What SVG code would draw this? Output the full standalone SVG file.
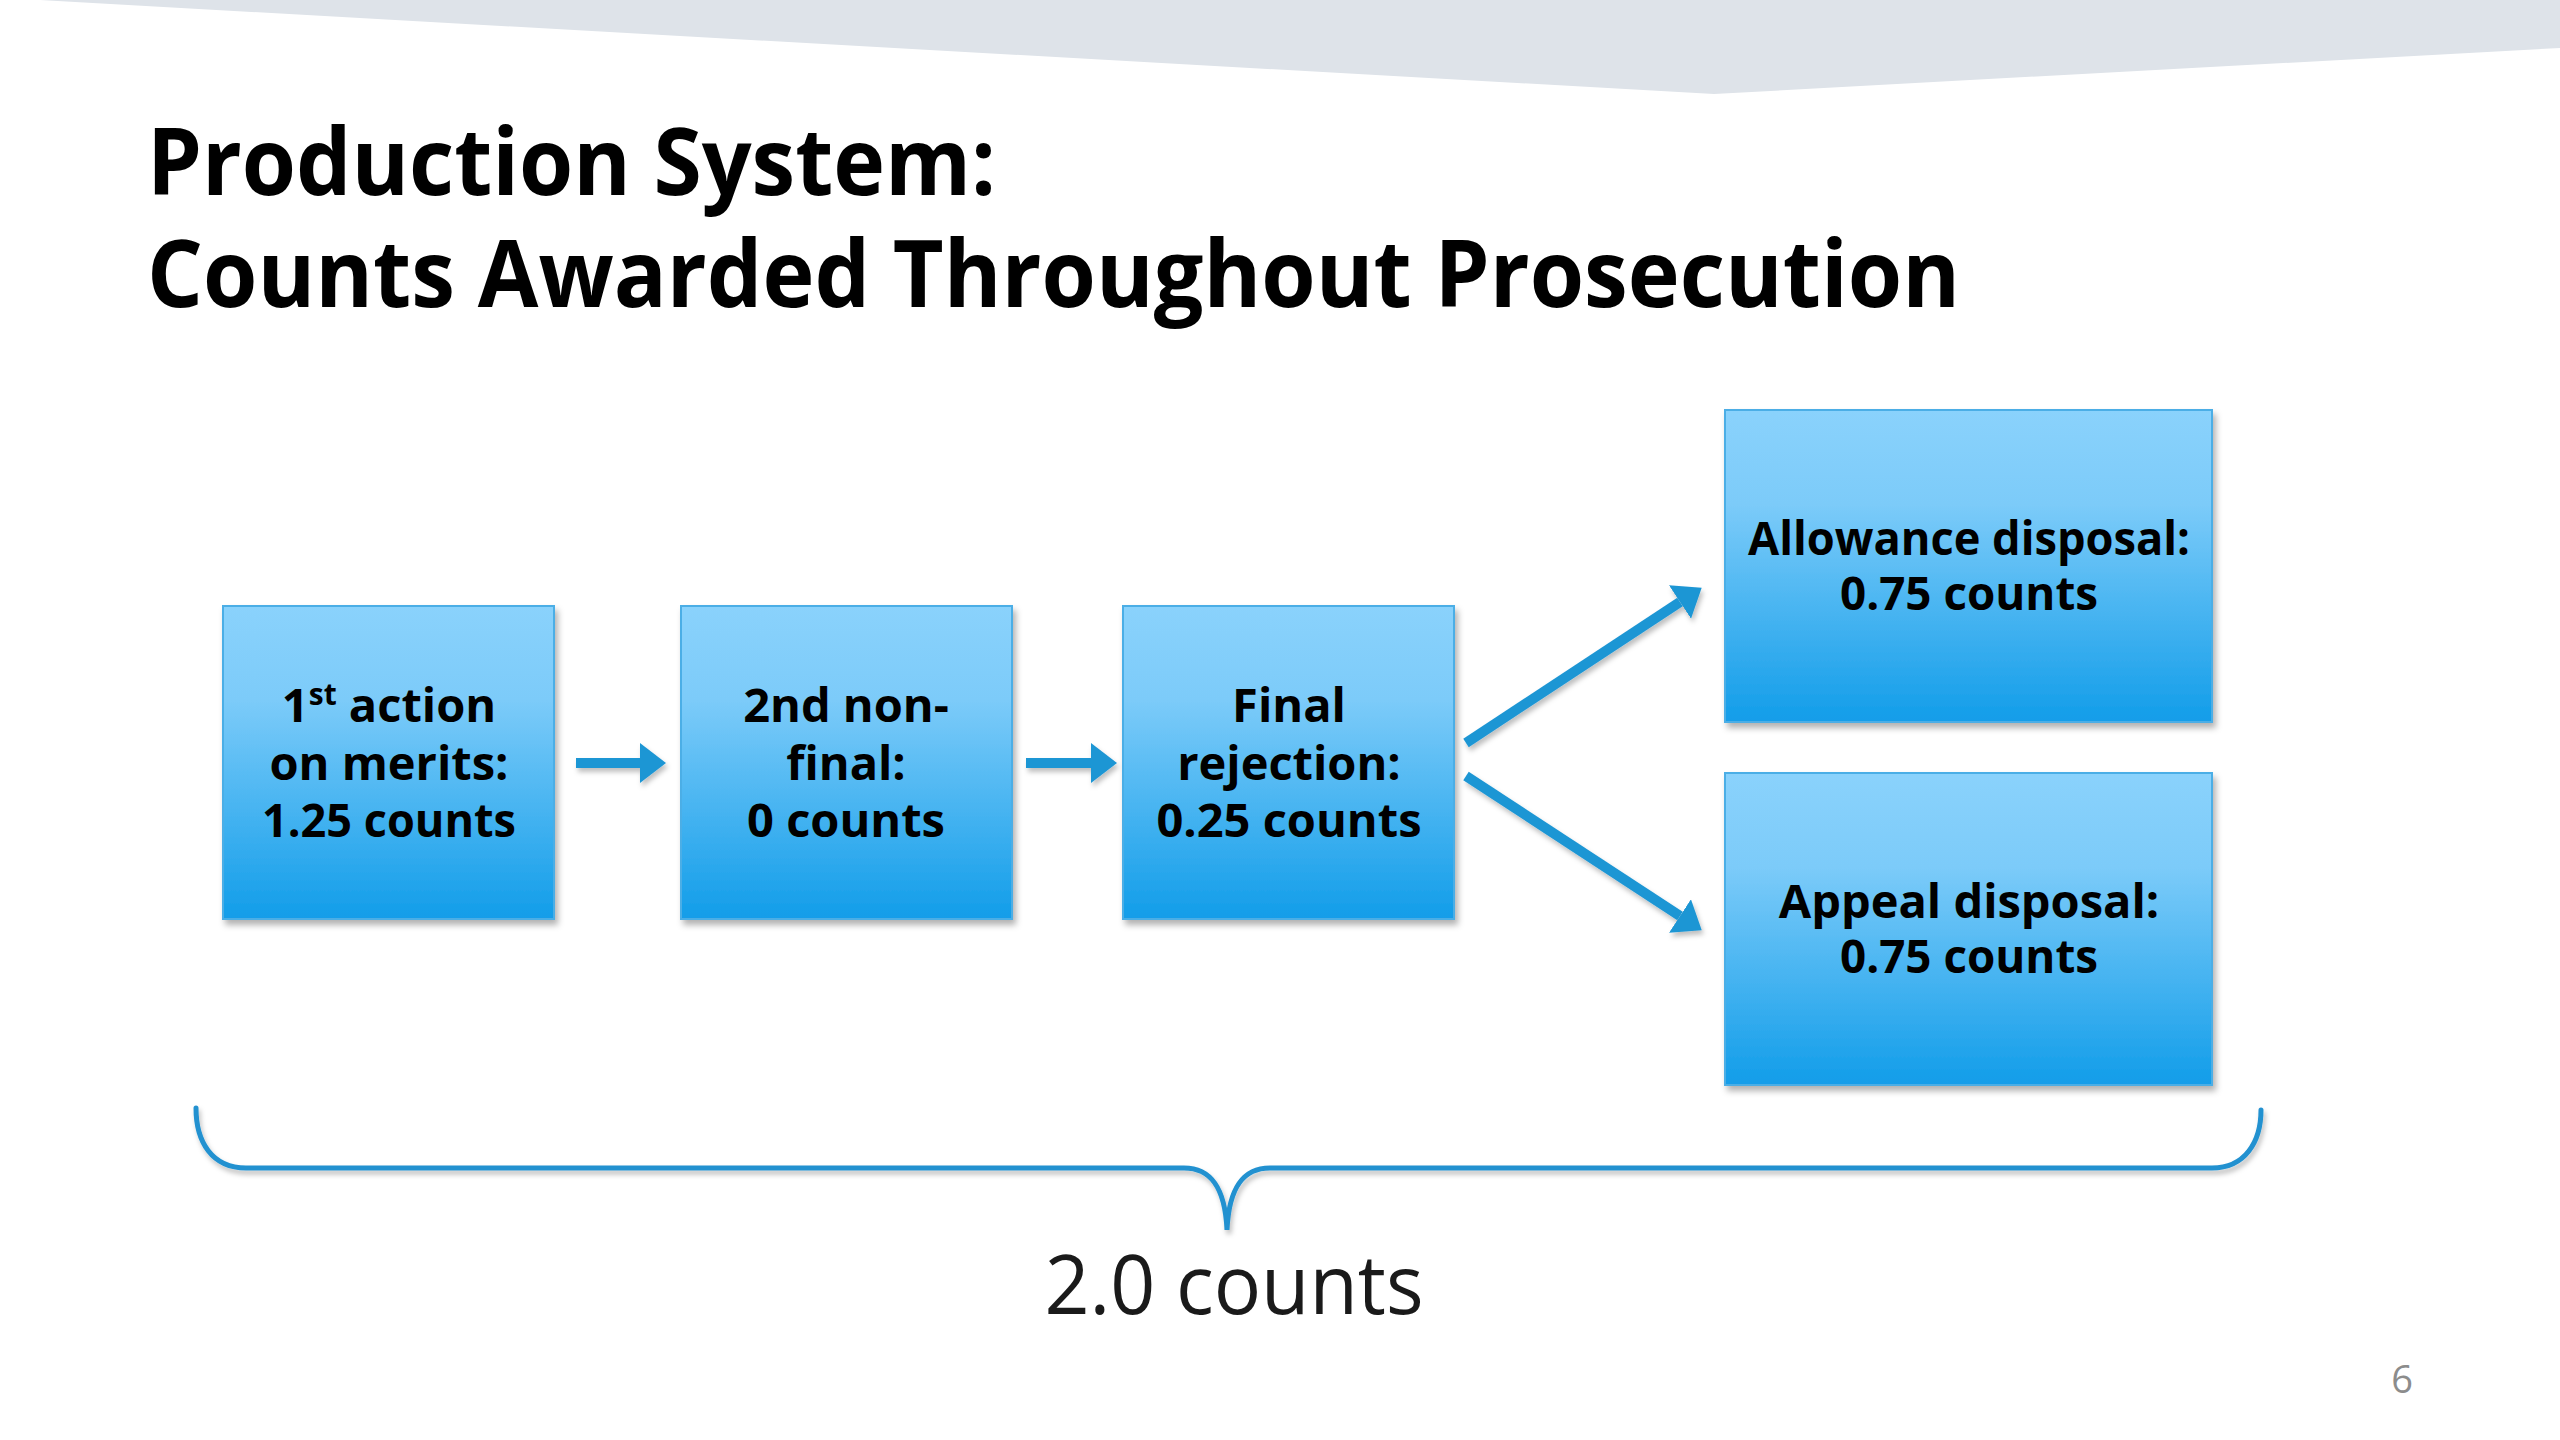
<svg xmlns="http://www.w3.org/2000/svg" width="2560" height="1440" viewBox="0 0 2560 1440">
  <defs>
    <linearGradient id="boxGrad" x1="0" y1="0" x2="0" y2="1">
      <stop offset="0" stop-color="#8AD2FC"/>
      <stop offset="0.3" stop-color="#7CCBF9"/>
      <stop offset="1" stop-color="#129DE9"/>
    </linearGradient>
    <filter id="shadow" x="-10%" y="-10%" width="125%" height="125%">
      <feDropShadow dx="3" dy="5" stdDeviation="3" flood-color="#000" flood-opacity="0.3"/>
    </filter>
    <filter id="lineShadow" filterUnits="userSpaceOnUse" x="0" y="0" width="2560" height="1440">
      <feDropShadow dx="2" dy="4" stdDeviation="2.5" flood-color="#000" flood-opacity="0.25"/>
    </filter>
    <marker id="head" markerUnits="userSpaceOnUse" markerWidth="28" markerHeight="42" refX="0" refY="20" orient="auto">
      <path d="M0,0 L26,20 L0,40 Z" fill="#1F96D4"/>
    </marker>
  </defs>
  <style>
    .box { fill: url(#boxGrad); stroke: #4BAEE6; stroke-width: 2; filter: url(#shadow); }
    .lbl { font-family: "Open Sans", "Noto Sans", "Liberation Sans", sans-serif; font-weight: 700; font-size: 47px; fill: #000; text-anchor: middle; }
    .title { font-family: "Open Sans", "Noto Sans", "Liberation Sans", sans-serif; font-weight: 700; font-size: 93px; fill: #000; }
    .arrow { stroke: #1F96D4; stroke-width: 10; fill: none; marker-end: url(#head); }
    .brace { stroke: #2191D0; stroke-width: 5; fill: none; stroke-linecap: round; }
    .total { font-family: "Open Sans", "Noto Sans", "Liberation Sans", sans-serif; font-weight: 400; font-size: 82px; fill: #1A1A1A; text-anchor: middle; }
    .page { font-family: "Open Sans", "Noto Sans", "Liberation Sans", sans-serif; font-size: 38px; fill: #8C8C8C; text-anchor: middle; }
  </style>

  <rect x="0" y="0" width="2560" height="1440" fill="#FFFFFF"/>
  <polygon points="40,0 2560,0 2560,48 1714,94" fill="#DEE3E9"/>

  <g id="title">
    <text class="title" x="147" y="195" textLength="849" lengthAdjust="spacingAndGlyphs">Production System:</text>
    <text class="title" x="147" y="307" textLength="1813" lengthAdjust="spacingAndGlyphs">Counts Awarded Throughout Prosecution</text>
  </g>

  <g id="node-first-action">
    <rect class="box" x="223" y="606" width="331" height="313"/>
    <text class="lbl" x="389" y="722">1<tspan font-size="30" dy="-17">st</tspan><tspan dy="17"> action</tspan></text>
    <text class="lbl" x="389" y="780">on merits:</text>
    <text class="lbl" x="389" y="837" textLength="254" lengthAdjust="spacingAndGlyphs">1.25 counts</text>
  </g>

  <g id="node-second-nonfinal">
    <rect class="box" x="681" y="606" width="331" height="313"/>
    <text class="lbl" x="846" y="722">2nd non-</text>
    <text class="lbl" x="846" y="780">final:</text>
    <text class="lbl" x="846" y="837">0 counts</text>
  </g>

  <g id="node-final-rejection">
    <rect class="box" x="1123" y="606" width="331" height="313"/>
    <text class="lbl" x="1289" y="722">Final</text>
    <text class="lbl" x="1289" y="780">rejection:</text>
    <text class="lbl" x="1289" y="837">0.25 counts</text>
  </g>

  <g id="node-allowance">
    <rect class="box" x="1725" y="410" width="487" height="312"/>
    <text class="lbl" x="1969" y="555" textLength="442" lengthAdjust="spacingAndGlyphs">Allowance disposal:</text>
    <text class="lbl" x="1969" y="610" textLength="258" lengthAdjust="spacingAndGlyphs">0.75 counts</text>
  </g>

  <g id="node-appeal">
    <rect class="box" x="1725" y="773" width="487" height="312"/>
    <text class="lbl" x="1969" y="918">Appeal disposal:</text>
    <text class="lbl" x="1969" y="973" textLength="258" lengthAdjust="spacingAndGlyphs">0.75 counts</text>
  </g>

  <g id="connectors" filter="url(#lineShadow)">
    <line class="arrow" x1="576" y1="763" x2="640" y2="763"/>
    <line class="arrow" x1="1026" y1="763" x2="1091" y2="763"/>
    <line class="arrow" x1="1466" y1="743" x2="1680" y2="602"/>
    <line class="arrow" x1="1466" y1="776" x2="1680" y2="916"/>
  </g>

  <g id="total-brace">
    <path class="brace" filter="url(#lineShadow)" d="M196,1108 C196,1142 212,1168 246,1168 L1184,1168 C1210,1168 1225,1186 1227,1230 C1229,1186 1244,1168 1270,1168 L2212,1168 C2245,1168 2261,1142 2261,1110"/>
    <text class="total" x="1234" y="1314" textLength="379" lengthAdjust="spacingAndGlyphs">2.0 counts</text>
  </g>

  <text class="page" x="2402" y="1393">6</text>
</svg>
